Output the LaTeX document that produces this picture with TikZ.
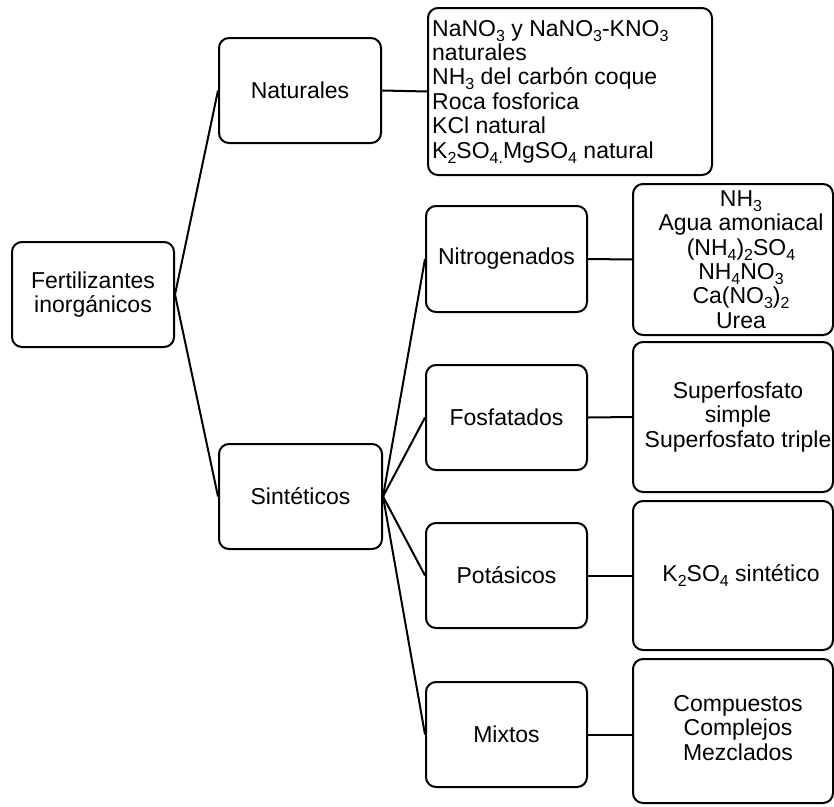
\documentclass[tikz,border=0pt]{standalone}
\usepackage{fontspec}
\setmainfont{Liberation Sans}
\newcommand{\sbs}[1]{\raisebox{-5pt}{\fontsize{16}{16}\selectfont #1}}
\tikzset{
  box/.style={draw, line width=2pt, rounded corners=10pt, inner sep=0pt,
    font=\fontsize{23}{24.4}\selectfont, align=center},
  txt/.style={inner sep=0pt, font=\fontsize{23}{24.4}\selectfont},
  link/.style={line width=2pt}
}
\begin{document}
\begin{tikzpicture}[x=1pt,y=-1pt]
\useasboundingbox (0,0) rectangle (834,806);
% level 0
\node[box, minimum width=162, minimum height=105] (fert) at (93,294.5) {Fertilizantes\\inorgánicos};
% level 1
\node[box, minimum width=162, minimum height=105] (nat) at (300,90.5) {Naturales};
\node[box, minimum width=163, minimum height=105] (sint) at (300.5,496.5) {Sintéticos};
% level 2
\node[box, minimum width=161, minimum height=106] (nitro) at (506.5,259) {Nitrogenados};
\node[box, minimum width=161, minimum height=105] (fosf) at (506.5,417.5) {Fosfatados};
\node[box, minimum width=161, minimum height=105] (pot) at (506.5,575.5) {Potásicos};
\node[box, minimum width=161, minimum height=105] (mix) at (506.5,734.5) {Mixtos};
% lists
\node[box, minimum width=284, minimum height=167] (natl) at (570,91.5) {};
\node[txt, anchor=west, align=left] (natlt) at ([xshift=5]natl.west) {NaNO\sbs{3} y NaNO\sbs{3}-KNO\sbs{3}\\naturales\\NH\sbs{3} del carbón coque\\Roca fosforica\\KCl natural\\K\sbs{2}SO\sbs{4.}MgSO\sbs{4} natural};
\node[box, minimum width=200, minimum height=151] (nitrol) at (733,259.5) {};
\node[txt, align=center] (nitrolt) at ([xshift=8]nitrol.center) {NH\sbs{3}\\Agua amoniacal\\(NH\sbs{4})\sbs{2}SO\sbs{4}\\NH\sbs{4}NO\sbs{3}\\Ca(NO\sbs{3})\sbs{2}\\Urea};
\node[box, minimum width=200, minimum height=150] (fosfl) at (733,417) {};
\node[txt, align=center] (fosflt) at ([xshift=5]fosfl.center) {Superfosfato\\simple\\Superfosfato triple};
\node[box, minimum width=200, minimum height=149] (potl) at (733,575.5) {};
\node[txt, align=center] (potlt) at ([xshift=8]potl.center) {K\sbs{2}SO\sbs{4} sintético};
\node[box, minimum width=200, minimum height=144] (mixl) at (733,731) {};
\node[txt, align=center] (mixlt) at ([xshift=5,yshift=3]mixl.center) {Compuestos\\Complejos\\Mezclados};
% connectors
\draw[link] (fert.east) -- (nat.west);
\draw[link] (fert.east) -- (sint.west);
\draw[link] (nat.east) -- (natl.west);
\draw[link] (sint.east) -- (nitro.west);
\draw[link] (sint.east) -- (fosf.west);
\draw[link] (sint.east) -- (pot.west);
\draw[link] (sint.east) -- (mix.west);
\draw[link] (nitro.east) -- (nitrol.west);
\draw[link] (fosf.east) -- (fosfl.west);
\draw[link] (pot.east) -- (potl.west);
\draw[link] (mix.east) -- (mixl.west |- mix.east);
\end{tikzpicture}
\end{document}
